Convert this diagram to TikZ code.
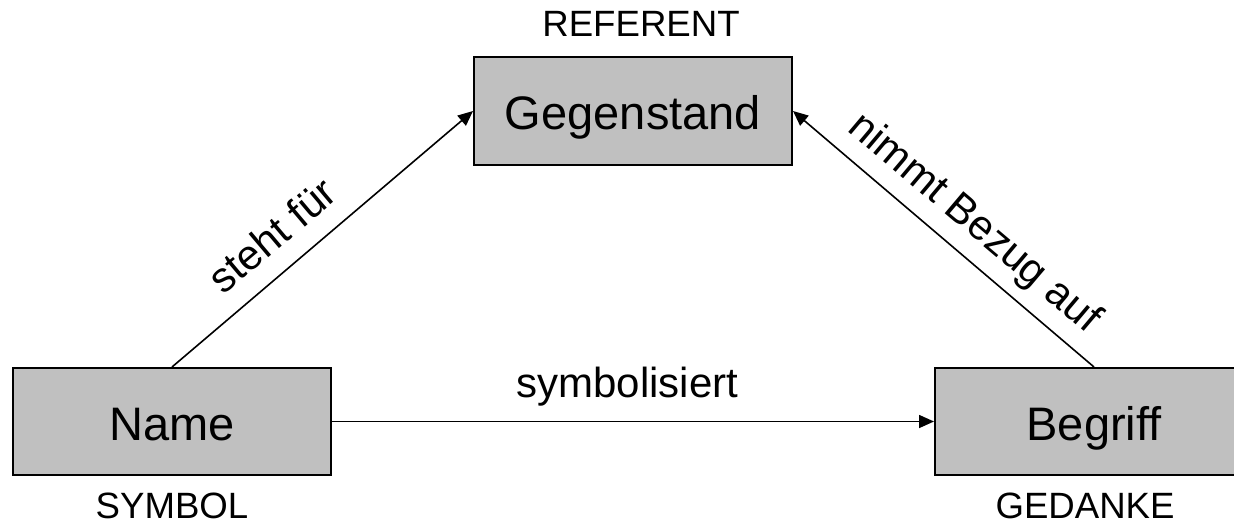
\documentclass[tikz,border=0pt]{standalone}
\usepackage{fontspec}
\setmainfont{Liberation Sans}
\usetikzlibrary{arrows.meta}
\begin{document}
\begin{tikzpicture}[x=0.5pt,y=-0.5pt,
  box/.style={draw=black, line width=1pt, fill={rgb,255:red,192;green,192;blue,192},
    minimum width=159pt, minimum height=53.5pt, inner sep=0pt,
    text height=18.8pt, text depth=0pt, font=\fontsize{23.5}{28}\selectfont},
  caplabel/.style={anchor=base, inner sep=0pt, font=\fontsize{18.3}{22}\selectfont},
  edgelabel/.style={inner sep=0pt, font=\fontsize{21}{25}\selectfont},
  conn/.style={draw=black, line width=0.8pt, -{Triangle[length=7.5pt,width=6.5pt]}}]
\clip (0,0) rectangle (1234,524);
\useasboundingbox (0,0) rectangle (1234,524);
\node[box] (geg) at (633,111) {Gegenstand};
\node[box] (name) at (172,421.5) {Name};
\node[box] (begr) at (1094,421.5) {Begriff};
\node[caplabel] (ref) at (641,37) {REFERENT};
\node[caplabel] (sym) at (172,518) {SYMBOL};
\node[caplabel] (ged) at (1085,518) {GEDANKE};
\draw[conn] (name.north) -- (geg.west);
\draw[conn] (begr.north) -- (geg.east);
\draw[conn] (name.east) -- (begr.west);
\node[edgelabel, rotate=40.2] (lsteht) at (272,235) {steht für};
\node[edgelabel, rotate=-40.2] (lbezug) at (974,224) {nimmt Bezug auf};
\node[edgelabel, anchor=base] (lsymb) at (627.5,397) {symbolisiert};
\end{tikzpicture}
\end{document}
